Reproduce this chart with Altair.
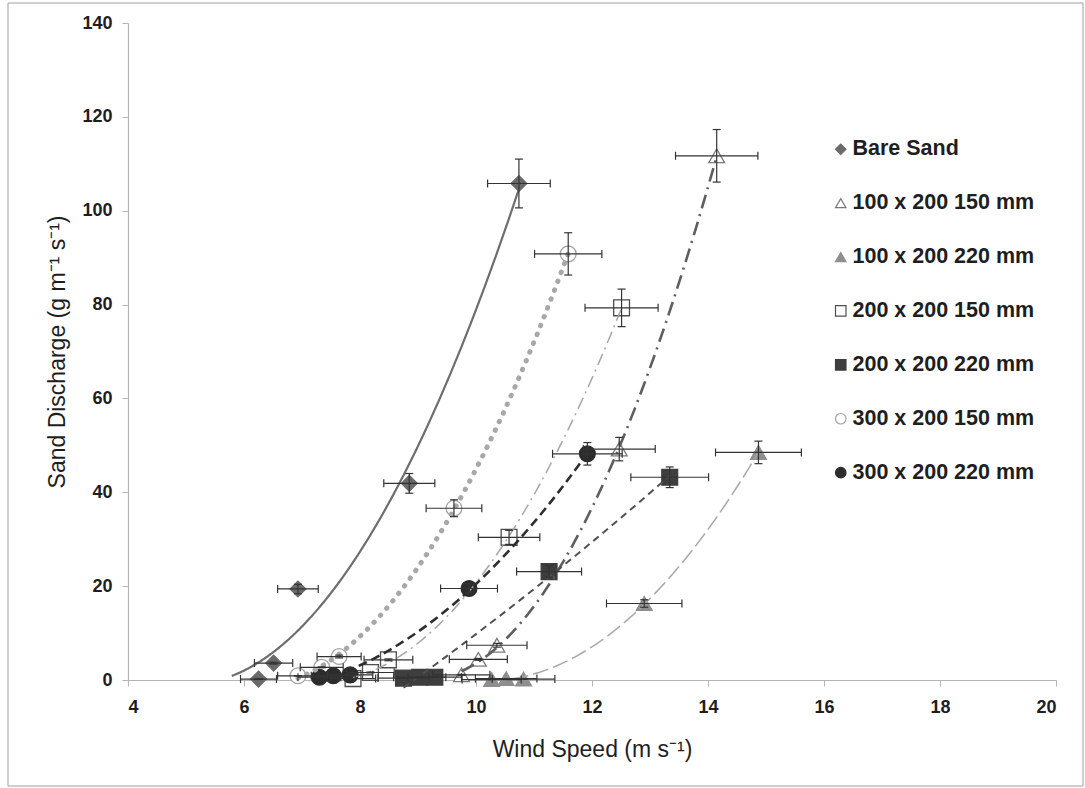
import altair as alt
import pandas as pd

# ---- data ----
series_names = ["Bare Sand", "100 x 200 150 mm", "100 x 200 220 mm", "200 x 200 150 mm",
                "200 x 200 220 mm", "300 x 200 150 mm", "300 x 200 220 mm"]

wind_speed = [
    [6.25, 6.51, 6.93, 8.85, 10.74],
    [9.75, 10.04, 10.36, 12.47, 14.15],
    [10.27, 10.52, 10.82, 12.90, 14.87],
    [7.88, 8.18, 8.49, 10.57, 12.51],
    [8.75, 9.03, 9.29, 11.26, 13.34],
    [6.93, 7.34, 7.64, 9.62, 11.59],
    [7.30, 7.54, 7.83, 9.88, 11.92],
]
discharge = [
    [0.2, 3.6, 19.4, 41.9, 105.8],
    [1.1, 4.4, 7.4, 49.2, 111.7],
    [0.1, 0.3, 0.2, 16.3, 48.5],
    [0.3, 1.6, 4.3, 30.4, 79.3],
    [0.4, 0.6, 0.6, 23.1, 43.2],
    [0.9, 2.7, 5.0, 36.6, 90.8],
    [0.6, 0.9, 1.1, 19.5, 48.2],
]
speed_err = [
    [0.31, 0.33, 0.35, 0.44, 0.54],
    [0.49, 0.50, 0.52, 0.62, 0.71],
    [0.51, 0.53, 0.54, 0.65, 0.74],
    [0.39, 0.41, 0.42, 0.53, 0.63],
    [0.44, 0.45, 0.46, 0.56, 0.67],
    [0.35, 0.37, 0.38, 0.48, 0.58],
    [0.37, 0.38, 0.39, 0.49, 0.60],
]
discharge_err = [
    [0.1, 0.2, 1.0, 2.1, 5.2],
    [0.1, 0.2, 0.4, 2.5, 5.6],
    [0.0, 0.0, 0.0, 0.8, 2.4],
    [0.0, 0.1, 0.2, 1.5, 4.0],
    [0.0, 0.0, 0.0, 1.2, 2.2],
    [0.0, 0.1, 0.3, 1.8, 4.5],
    [0.0, 0.0, 0.1, 1.0, 2.4],
]
# trend line x-range per series
trend_start = [5.79, 9.75, 10.27, 7.88, 8.75, 6.93, 7.30]
trend_end = [10.74, 14.15, 14.87, 12.51, 13.34, 11.59, 11.92]

# ---- styles ----
shapes = ["diamond", "triangle-up", "triangle-up", "square", "square", "circle", "circle"]
fills = ["#6a6a6a", "#ffffff", "#8e8e8e", "#ffffff", "#3e3e3e", "#ffffff", "#2c2c2c"]
strokes = ["#6a6a6a", "#7a7a7a", "#8e8e8e", "#4e4e4e", "#3e3e3e", "#a4a4a4", "#2c2c2c"]
line_colors = ["#6e6e6e", "#5e5e5e", "#a8a8a8", "#a6a6a6", "#505050", "#a8a8a8", "#2e2e2e"]
line_widths = [2.2, 2.6, 1.5, 1.5, 2.0, 5.0, 2.6]
line_dashes = [[1, 0], [14, 6, 2, 6], [16, 5], [12, 5, 2, 5], [7, 5], [0.5, 9], [9, 5]]

rows = []
for name, xs, ys, xes, yes in zip(series_names, wind_speed, discharge, speed_err, discharge_err):
    for x, y, xe, ye in zip(xs, ys, xes, yes):
        rows.append({"series": name, "x": x, "y": y,
                     "xlo": x - xe, "xhi": x + xe, "ylo": y - ye, "yhi": y + ye})
df = pd.DataFrame(rows)

FONT = "Liberation Sans"
xscale = alt.Scale(domain=[4, 20], nice=False, zero=False)
yscale = alt.Scale(domain=[0, 140], nice=False)
xaxis = alt.Axis(title="Wind Speed (m s\u207b\u00b9)", values=list(range(4, 21, 2)), format="d",
                 titleFontSize=23)
yaxis = alt.Axis(title="Sand Discharge (g m\u207b\u00b9 s\u207b\u00b9)", values=list(range(0, 141, 20)), format="d",
                 titleFontSize=23)

base = alt.Chart(df)

points = base.mark_point(opacity=1, size=250, strokeWidth=1.3).encode(
    x=alt.X("x:Q", scale=xscale, axis=xaxis),
    y=alt.Y("y:Q", scale=yscale, axis=yaxis),
    shape=alt.Shape("series:N", scale=alt.Scale(domain=series_names, range=shapes), legend=alt.Legend(title=None)),
    fill=alt.Fill("series:N", scale=alt.Scale(domain=series_names, range=fills), legend=alt.Legend(title=None)),
    stroke=alt.Stroke("series:N", scale=alt.Scale(domain=series_names, range=strokes), legend=alt.Legend(title=None)),
)

lines = []
for i, name in enumerate(series_names):
    ln = base.transform_filter(alt.datum.series == name).transform_regression(
        "x", "y", method="poly", order=2, extent=[trend_start[i], trend_end[i]]
    ).mark_line(
        color=line_colors[i], strokeWidth=line_widths[i], strokeDash=line_dashes[i],
        strokeCap="round" if i == 5 else "butt"
    ).encode(x=alt.X("x:Q", scale=xscale), y=alt.Y("y:Q", scale=yscale))
    lines.append(ln)

ERR = "#333333"
hbar = base.mark_rule(color=ERR, strokeWidth=1.2).encode(x="xlo:Q", x2="xhi:Q", y="y:Q")
hcap_lo = base.mark_tick(orient="vertical", size=8, thickness=1.2, color=ERR, opacity=1).encode(x="xlo:Q", y="y:Q")
hcap_hi = base.mark_tick(orient="vertical", size=8, thickness=1.2, color=ERR, opacity=1).encode(x="xhi:Q", y="y:Q")
vbar = base.mark_rule(color=ERR, strokeWidth=1.2).encode(x="x:Q", y="ylo:Q", y2="yhi:Q")
vcap_lo = base.mark_tick(orient="horizontal", size=8, thickness=1.2, color=ERR, opacity=1).encode(x="x:Q", y="ylo:Q")
vcap_hi = base.mark_tick(orient="horizontal", size=8, thickness=1.2, color=ERR, opacity=1).encode(x="x:Q", y="yhi:Q")

frame = alt.Chart(pd.DataFrame({"d": [0]})).mark_rect(fill=None, stroke="#a0a0a0", strokeWidth=1).encode(
    x=alt.value(-120), x2=alt.value(955), y=alt.value(-20), y2=alt.value(763)
)

chart = alt.layer(
    frame, points, *lines, hbar, hcap_lo, hcap_hi, vbar, vcap_lo, vcap_hi
).properties(
    width=928, height=657,
    autosize=alt.AutoSizeParams(type="none"),
    padding={"left": 128, "top": 23, "right": 29, "bottom": 108},
    background="white",
).configure_view(stroke=None).configure_axis(
    grid=False,
    domainColor="#b5b5b5", tickColor="#b5b5b5", tickSize=6, domainWidth=1.2,
    labelFont=FONT, labelFontSize=18, labelFontWeight="bold", labelColor="#1e1e1e",
    titleFont=FONT, titleFontWeight="normal", titleColor="#1e1e1e",
).configure_axisX(labelPadding=12, titlePadding=22).configure_axisY(labelPadding=10, titlePadding=12).configure_legend(
    orient="none", legendX=702, legendY=115.5, padding=0,
    labelFont=FONT, labelFontSize=21.5, labelFontWeight="bold", labelColor="#1e1e1e",
    symbolSize=110, symbolStrokeWidth=1.2, rowPadding=30.9, labelOffset=1, labelLimit=400,
)

chart.save("out.html", embed_options={"renderer": "svg", "actions": False})
